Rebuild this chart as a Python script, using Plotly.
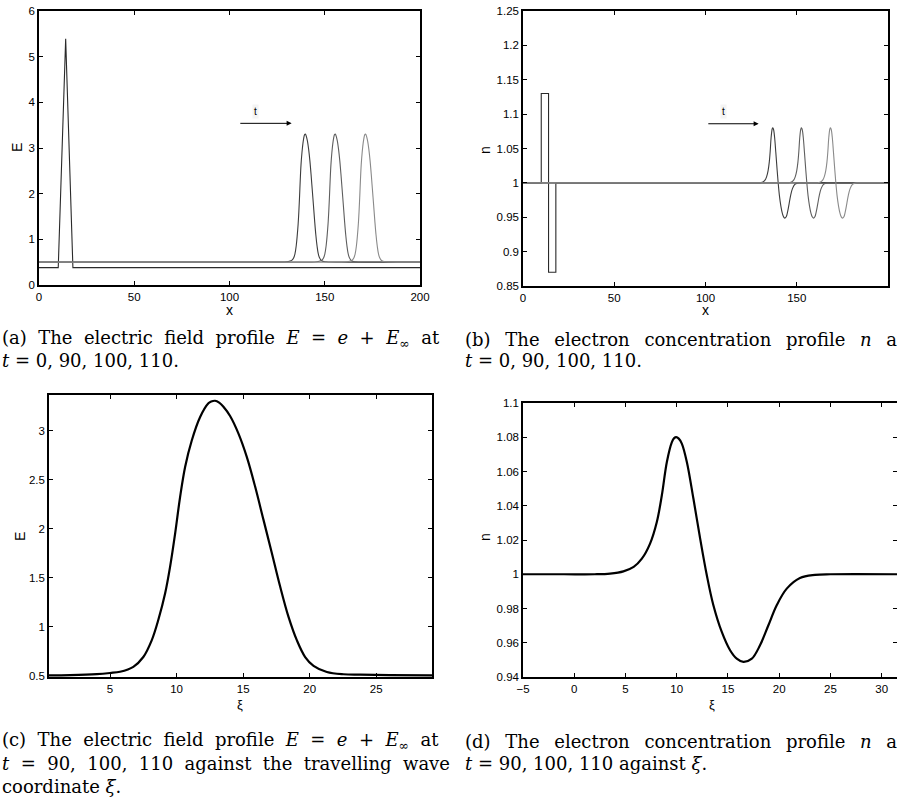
import plotly.graph_objects as go

# ---------------- data ----------------
# travelling-wave profile of E against xi (panel c)
E_xi = [0.41, 2.0, 4.0, 5.0, 5.75, 6.75, 7.5, 8.13, 8.63, 9.14, 9.51, 9.89, 10.26, 10.64,
        11.14, 11.77, 12.39, 12.6, 12.89, 13.2, 13.52, 14.02, 14.65, 15.28, 15.9, 16.53, 17.16,
        17.78, 18.41, 19.04, 19.66, 20.29, 21.29, 22.54, 23.8, 26.0, 29.19]
E_val = [0.502, 0.505, 0.515, 0.527, 0.54, 0.59, 0.69, 0.86, 1.07, 1.34, 1.61, 1.95, 2.32, 2.63,
         2.90, 3.14, 3.28, 3.298, 3.306, 3.287, 3.245, 3.15, 2.97, 2.73, 2.43, 2.09, 1.75,
         1.41, 1.10, 0.86, 0.69, 0.60, 0.537, 0.514, 0.51, 0.505, 0.502]

# travelling-wave profile of n against xi (panel d)
n_xi = [-5.0, -1.0, 2.0, 3.5, 4.8, 5.8, 6.6, 7.4, 8.06, 8.55, 9.04, 9.53, 9.75, 9.95, 10.2,
        10.5, 10.99, 11.63, 12.29, 12.94, 13.58, 14.4, 15.21, 15.86, 16.51, 17.33,
        18.13, 18.95, 19.76, 20.74, 22.03, 23.5, 25.0, 31.5]
n_val = [1.0, 1.0, 1.0, 1.0004, 1.0017, 1.0043, 1.0091, 1.0179, 1.0305, 1.0461, 1.0656, 1.0772,
         1.0795, 1.0801, 1.0792, 1.0763, 1.0656, 1.0442, 1.0208, 0.9994, 0.9819, 0.9663, 0.9556,
         0.9507, 0.9488, 0.9507, 0.9585, 0.9702, 0.9819, 0.9916, 0.9978, 0.9996,
         1.0, 1.0]

# times and wave positions (x = xi + shift)
times = [90, 100, 110]
wave_shift = [126.9, 142.6, 158.5]
E_far = 0.5
n_far = 1.0
x_domain = [0, 200]

# initial conditions (t = 0)
init_E_x = [0, 10.1, 14.0, 17.8, 200]
init_E = [0.38, 0.38, 5.39, 0.38, 0.38]
init_n_x = [0, 10, 10, 14, 14, 18, 18, 200]
init_n = [1.0, 1.0, 1.13, 1.13, 0.87, 0.87, 1.0, 1.0]

# tick labels
a_yticks = [0, 1, 2, 3, 4, 5, 6]
ax_ticks = [0, 50, 100, 150, 200]
b_yticks = [0.85, 0.9, 0.95, 1.0, 1.05, 1.1, 1.15, 1.2, 1.25]
b_ylabels = ["0.85", "0.9", "0.95", "1", "1.05", "1.1", "1.15", "1.2", "1.25"]
c_xticks = [5, 10, 15, 20, 25]
c_yticks = [0.5, 1, 1.5, 2, 2.5, 3]
c_ylabels = ["0.5", "1", "1.5", "2", "2.5", "3"]
d_xticks = [-5, 0, 5, 10, 15, 20, 25, 30]
d_xlabels = ["\u22125", "0", "5", "10", "15", "20", "25", "30"]
d_yticks = [0.94, 0.96, 0.98, 1.0, 1.02, 1.04, 1.06, 1.08, 1.1]
d_ylabels = ["0.94", "0.96", "0.98", "1", "1.02", "1.04", "1.06", "1.08", "1.1"]

wave_colors = ["#3c3c3c", "#5e5e5e", "#8a8a8a"]

W, H = 897, 798
def px(x):
    return x / W
def py(y):
    return 1 - y / H

fig = go.Figure()
sm = 1.0

# ---- panel (a)
fig.add_trace(go.Scatter(x=init_E_x, y=init_E, mode="lines", line=dict(color="#2a2a2a", width=1.1),
                         xaxis="x", yaxis="y", showlegend=False))
for s, c in zip(wave_shift, wave_colors):
    xs = [x_domain[0]] + [v + s for v in E_xi] + [x_domain[1]]
    ys = [E_far] + E_val + [E_far]
    fig.add_trace(go.Scatter(x=xs, y=ys, mode="lines", line=dict(color=c, width=1.1, shape="spline", smoothing=sm),
                             xaxis="x", yaxis="y", showlegend=False))

# ---- panel (b)
fig.add_trace(go.Scatter(x=init_n_x, y=init_n, mode="lines", line=dict(color="#2a2a2a", width=1.1),
                         xaxis="x2", yaxis="y2", showlegend=False))
for s, c in zip(wave_shift, wave_colors):
    xs = [x_domain[0]] + [v + s for v in n_xi] + [x_domain[1]]
    ys = [n_far] + n_val + [n_far]
    fig.add_trace(go.Scatter(x=xs, y=ys, mode="lines", line=dict(color=c, width=1.1, shape="spline", smoothing=sm),
                             xaxis="x2", yaxis="y2", showlegend=False))

# ---- panel (c)
fig.add_trace(go.Scatter(x=E_xi, y=E_val, mode="lines", line=dict(color="black", width=2.2, shape="spline", smoothing=sm),
                         xaxis="x3", yaxis="y3", showlegend=False))
# ---- panel (d)
fig.add_trace(go.Scatter(x=n_xi, y=n_val, mode="lines", line=dict(color="black", width=2.2, shape="spline", smoothing=sm),
                         xaxis="x4", yaxis="y4", showlegend=False))

tickfont = dict(family="Liberation Sans, Arial, sans-serif", size=11.5, color="black")
common = dict(showgrid=False, zeroline=False, showline=True, linecolor="black", linewidth=1.5,
              mirror="ticks", ticks="inside", ticklen=4, tickcolor="black", tickwidth=1,
              tickfont=tickfont)

fig.update_layout(
    width=W, height=H, margin=dict(l=0, r=0, t=0, b=0, autoexpand=False),
    paper_bgcolor="white", plot_bgcolor="white", showlegend=False,
    xaxis=dict(domain=[px(39), px(420)], range=[0, 200], tickvals=ax_ticks, anchor="y", **common),
    yaxis=dict(domain=[py(285), py(11)], range=[0, 6], tickvals=a_yticks, anchor="x", **common),
    xaxis2=dict(domain=[px(523), px(888)], range=[0, 200], tickvals=ax_ticks, anchor="y2", **common),
    yaxis2=dict(domain=[py(286), py(11)], range=[0.85, 1.25], tickvals=b_yticks, ticktext=b_ylabels, anchor="x2", **common),
    xaxis3=dict(domain=[px(49), px(432)], range=[0.414, 29.19], tickvals=c_xticks, anchor="y3", **common),
    yaxis3=dict(domain=[py(677), py(395)], range=[0.486, 3.365], tickvals=c_yticks, ticktext=c_ylabels, anchor="x3", **common),
    xaxis4=dict(domain=[px(523), 1.0], range=[-5, 31.5], tickvals=d_xticks, ticktext=d_xlabels, anchor="y4", **common),
    yaxis4=dict(domain=[py(677), py(403)], range=[0.94, 1.1], tickvals=d_yticks, ticktext=d_ylabels, anchor="x4", **common),
)

lab = dict(family="Liberation Sans, Arial, sans-serif", size=14, color="black")
ann = []
def label(text, x, y, angle=0, size=14):
    ann.append(dict(text=text, x=px(x), y=py(y), xref="paper", yref="paper", showarrow=False,
                    font=dict(lab, size=size), textangle=angle, xanchor="center", yanchor="middle"))

label("x", 229, 310)
label("E", 17, 148, -90)
label("x", 705, 310)
label("n", 485, 150, -90)
label("\u03be", 240, 704, size=13)
label("E", 20, 537, -90)
label("\u03be", 712, 704, size=13)
label("n", 485, 537, -90)

# arrows "t"
tfont = dict(family="Liberation Sans, Arial, sans-serif", size=10, color="black")
ann.append(dict(x=132.6, y=3.54, ax=104.1, ay=3.54, xref="x", yref="y", axref="x", ayref="y",
                showarrow=True, arrowhead=2, arrowsize=1, arrowwidth=1, arrowcolor="black", text=" "))
ann.append(dict(x=113.9, y=3.81, xref="x", yref="y", text="t", showarrow=False, font=tfont,
                bgcolor="#f4f4f4"))
ann.append(dict(x=129.1, y=1.086, ax=99.9, ay=1.086, xref="x2", yref="y2", axref="x2", ayref="y2",
                showarrow=True, arrowhead=2, arrowsize=1, arrowwidth=1, arrowcolor="black", text=" "))
ann.append(dict(x=110.0, y=1.104, xref="x2", yref="y2", text="t", showarrow=False, font=tfont,
                bgcolor="#f4f4f4"))

# captions
cap = dict(family="DejaVu Serif, Liberation Serif, serif", size=18, color="black")
S2 = "\u00a0 "
SB = "\u2002 "
def caption(text, x, y):
    ann.append(dict(text=text, x=px(x), y=py(y), xref="paper", yref="paper", showarrow=False,
                    font=cap, xanchor="left", yanchor="middle", align="left"))

a1 = S2.join(["(a)", "The", "electric", "field", "profile", "<i>E</i>", "=", "<i>e</i>", "+",
              "<i>E</i><sub>\u221e</sub>", "at"])
c2 = S2.join(["<i>t</i>", "=", "90,", "100,", "110", "against", "the", "travelling", "wave"])
b1 = SB.join(["(b)", "The", "electron", "concentration", "profile", "<i>n</i>", "at"])

caption(a1, 0, 339)
caption("<i>t</i> = 0, 90, 100, 110.", 0, 361)
caption(b1, 463, 339)
caption("<i>t</i> = 0, 90, 100, 110.", 463, 361)
caption(a1.replace("(a)", "(c)"), 0, 741)
caption(c2, 0, 763)
caption("coordinate <i>\u03be</i>.", 0, 786)
caption(b1.replace("(b)", "(d)"), 463, 741)
caption("<i>t</i> = 90, 100, 110 against <i>\u03be</i>.", 463, 763)

fig.update_layout(annotations=ann)
fig.write_html("out.html", config={"displayModeBar": False},
               post_script="document.body.style.margin='0';document.body.style.overflow='hidden';")
